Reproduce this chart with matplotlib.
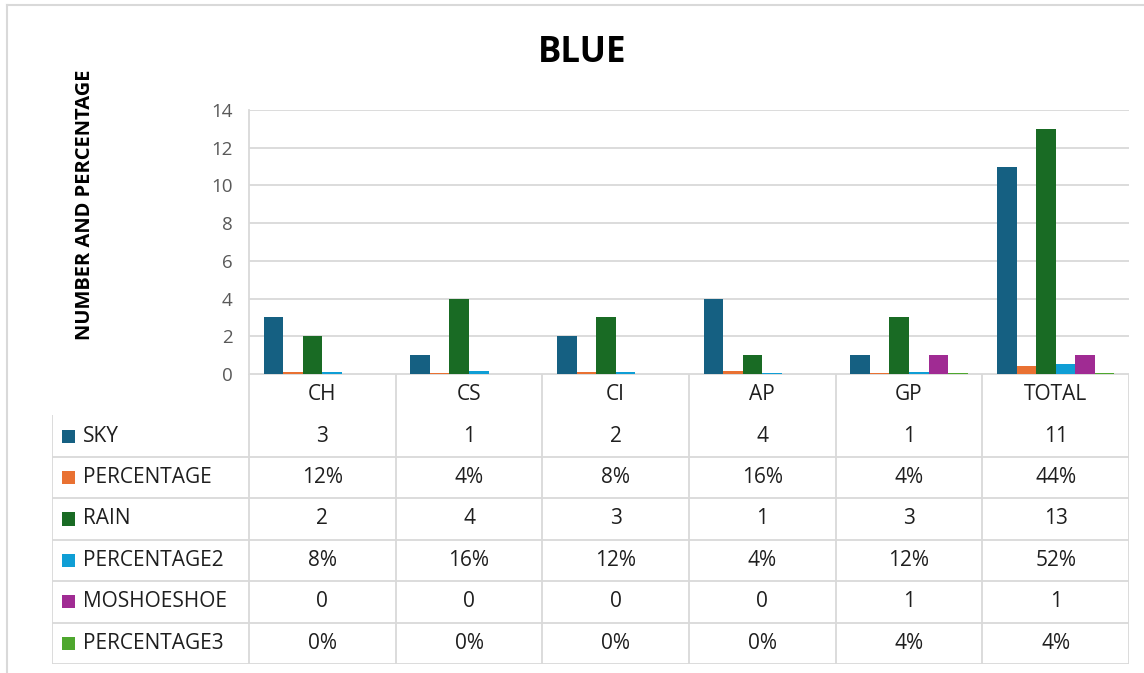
import matplotlib
matplotlib.use('Agg')
import matplotlib.pyplot as plt
import numpy as np

plt.rcParams['font.family'] = ['Open Sans', 'DejaVu Sans']

categories = ['CH', 'CS', 'CI', 'AP', 'GP', 'TOTAL']
sky = [3, 1, 2, 4, 1, 11]
percentage = [0.12, 0.04, 0.08, 0.16, 0.04, 0.44]
rain = [2, 4, 3, 1, 3, 13]
percentage2 = [0.08, 0.16, 0.12, 0.04, 0.12, 0.52]
moshoeshoe = [0, 0, 0, 0, 1, 1]
percentage3 = [0, 0, 0, 0, 0.04, 0.04]

series_names = ['SKY', 'PERCENTAGE', 'RAIN', 'PERCENTAGE2', 'MOSHOESHOE', 'PERCENTAGE3']
series_vals = [sky, percentage, rain, percentage2, moshoeshoe, percentage3]
is_pct = [False, True, False, True, False, True]
colors = ['#156082', '#E97132', '#196B24', '#0F9ED5', '#A02B93', '#4EA72E']

W, H = 1144, 673
grid_c = '#d9d9d9'
txt_c = '#1f1f1f'

fig = plt.figure(figsize=(W / 100, H / 100), dpi=100)

# pixel layout of the excel chart
px_left, px_right = 249, 1129
px_top, px_zero = 110, 374
px_tab_left, px_tab_bot = 52, 664

ax = fig.add_axes([px_left / W, 1 - px_zero / H, (px_right - px_left) / W, (px_zero - px_top) / H])
n = len(categories)
x = np.arange(n)
bw = 0.8 / len(series_vals)
for i, (vals, c) in enumerate(zip(series_vals, colors)):
    ax.bar(x - 0.4 + bw * (i + 0.5), vals, bw, color=c, zorder=3)

ax.set_xlim(-0.5, n - 0.5)
ax.set_ylim(0, 14)
ax.set_yticks(range(0, 15, 2))
ax.yaxis.grid(True, color=grid_c, lw=1.3, zorder=0)
ax.set_xticks([])
ax.tick_params(axis='y', length=0, pad=12, labelsize=13.5, labelcolor='#595959')
for s in ['top', 'right', 'bottom']:
    ax.spines[s].set_visible(False)
ax.spines['left'].set_color(grid_c)
ax.spines['left'].set_linewidth(1.3)

# data table underneath
cat_px = (px_right - px_left) / n
lab_w = (px_left - px_tab_left) / cat_px
tax = fig.add_axes([px_tab_left / W, 1 - px_tab_bot / H, (px_right - px_tab_left) / W, (px_tab_bot - px_zero) / H])
nrows = len(series_names) + 1
tax.set_xlim(-0.5 - lab_w, n - 0.5)
tax.set_ylim(0, nrows)
tax.axis('off')

lk = dict(color=grid_c, lw=1.3, solid_capstyle='butt')
# horizontal lines
tax.plot([-0.5, n - 0.5], [nrows, nrows], **lk)
for r in range(nrows - 1):
    tax.plot([-0.5 - lab_w, n - 0.5], [r, r], **lk)
# vertical lines
tax.plot([-0.5 - lab_w] * 2, [0, nrows - 1], **lk)
for j in range(n + 1):
    tax.plot([j - 0.5] * 2, [0, nrows], **lk)

fs = 15
for j, cat in enumerate(categories):
    tax.text(j, nrows - 0.5, cat, ha='center', va='center', fontsize=fs, color=txt_c)

key = 13 / cat_px
for i, (name, vals, pct, c) in enumerate(zip(series_names, series_vals, is_pct, colors)):
    yc = nrows - 1.5 - i
    x0 = -0.5 - lab_w + 10 / cat_px
    tax.add_patch(plt.Rectangle((x0, yc - 0.16), key, 0.32, color=c, lw=0))
    tax.text(x0 + key + 8 / cat_px, yc, name, ha='left', va='center', fontsize=fs, color=txt_c)
    for j, v in enumerate(vals):
        s = f'{round(v * 100)}%' if pct else f'{v}'
        tax.text(j, yc, s, ha='center', va='center', fontsize=fs, color=txt_c)

fig.text(582 / W, 1 - 53 / H, 'BLUE', ha='center', va='center', fontsize=25,
         fontweight='bold', color='black')
fig.text(85 / W, 1 - 205 / H, 'NUMBER AND PERCENTAGE', ha='center', va='center',
         rotation=90, fontsize=14.5, fontweight='bold', color='black')

# outer chart border
fig.add_artist(plt.Line2D([7 / W, 1], [1 - 5 / H] * 2, color=grid_c, lw=1.5))
fig.add_artist(plt.Line2D([7 / W] * 2, [0, 1 - 5 / H], color=grid_c, lw=1.5))

fig.savefig('out.png', dpi=100, facecolor='white')
